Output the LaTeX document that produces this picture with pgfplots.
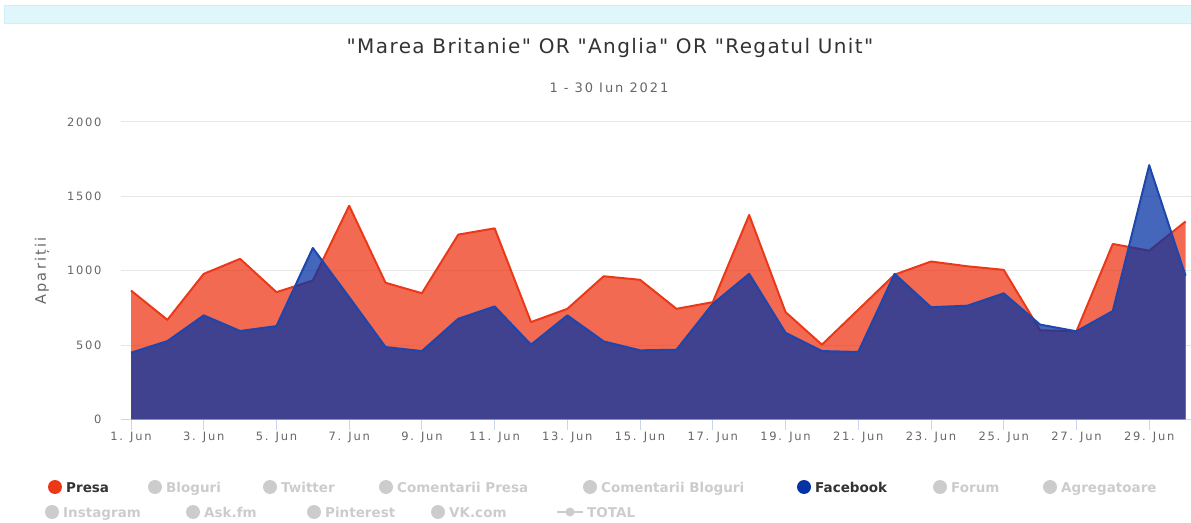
\documentclass[border=0pt]{standalone}
\usepackage{fontspec}
\setmainfont{DejaVu Sans}
\newfontfamily\spaced[LetterSpace=15]{DejaVu Sans}
\newfontfamily\titlefont[LetterSpace=7]{DejaVu Sans}
\usepackage{pgfplots}
\pgfplotsset{compat=1.18}
\usepackage{pgfplotstable}
\usetikzlibrary{calc}
\definecolor{presa}{RGB}{237,56,24}
\definecolor{fb}{RGB}{5,51,164}
\definecolor{gridc}{HTML}{E6E6E6}
\definecolor{axisc}{HTML}{CCD6EB}
\definecolor{txt}{HTML}{666666}
\definecolor{dark}{HTML}{333333}
\definecolor{inact}{HTML}{CCCCCC}
\definecolor{band}{HTML}{DFF6FB}
\definecolor{bandb}{HTML}{CDEFF7}

\pgfplotstableread{
day presa facebook
1 867 449
2 670 527
3 979 700
4 1080 595
5 856 628
6 934 1153
7 1437 822
8 919 487
9 849 460
10 1243 677
11 1285 760
12 655 503
13 744 700
14 963 525
15 939 465
16 744 469
17 789 778
18 1375 979
19 722 583
20 503 460
21 738 454
22 974 979
23 1062 755
24 1030 765
25 1006 848
26 600 638
27 593 593
28 1180 729
29 1135 1710
30 1331 966
}\datatable

\newcommand{\legitem}[5]{%
  \fill[#3] (#1pt,#2pt) circle (7pt);
  \node[anchor=base west, inner sep=0pt, text=#4, font=\fontsize{13.5}{15}\selectfont\bfseries] at ($(#1pt,#2pt)+(11pt,-5pt)$) {#5};}
\newcommand{\q}{\char34 }

\begin{document}
\begin{tikzpicture}
\useasboundingbox (0,0) rectangle (1191pt,522pt);
\fill[band, draw=bandb] (4pt,499pt) rectangle (1191pt,517pt);
\node[text=dark, font=\titlefont\fontsize{20}{23}\selectfont] at (610pt,474pt) {\q Marea Britanie\q{} OR \q Anglia\q{} OR \q Regatul Unit\q};
\node[text=txt, font=\spaced\fontsize{13}{15}\selectfont] at (609pt,434pt) {1 - 30 Iun 2021};
\node[rotate=90, text=txt, font=\spaced\fontsize{14.5}{16}\selectfont] at (42pt,251pt) {Apariții};

\begin{axis}[
  at={(121pt,102.5pt)}, anchor=south west,
  scale only axis, width=1070pt, height=297.5pt,
  xmin=0.725, xmax=30.15, ymin=0, ymax=2000,
  axis lines*=left,
  y axis line style={draw=none},
  x axis line style={draw=axisc, line width=1pt},
  ytick={0,500,1000,1500,2000},
  ymajorgrids, grid style={gridc, line width=1pt},
  ytick style={draw=none},
  xtick={1,3,...,29},
  xticklabels={1. Jun,3. Jun,5. Jun,7. Jun,9. Jun,11. Jun,13. Jun,15. Jun,17. Jun,19. Jun,21. Jun,23. Jun,25. Jun,27. Jun,29. Jun},
  tick align=outside,
  major tick length=10pt,
  xtick style={draw=axisc, line width=1pt},
  /pgf/number format/assume math mode=true,
  /pgf/number format/1000 sep={},
  yticklabel style={text=txt, font=\spaced\fontsize{11.5}{13}\selectfont, anchor=east, xshift=-6pt},
  xticklabel style={text=txt, font=\spaced\fontsize{11.5}{13}\selectfont, anchor=north, yshift=1pt},
  clip=false,
]
\addplot[fill=presa, fill opacity=0.75, draw=none] table[x=day, y=presa] {\datatable} \closedcycle;
\addplot[presa, line width=2pt, line join=round] table[x=day, y=presa] {\datatable};
\addplot[fill=fb, fill opacity=0.75, draw=none] table[x=day, y=facebook] {\datatable} \closedcycle;
\addplot[fb!90!white, line width=2pt, line join=round] table[x=day, y=facebook] {\datatable};
\end{axis}

\legitem{55}{35}{presa}{dark}{Presa}
\legitem{155}{35}{inact}{inact}{Bloguri}
\legitem{270}{35}{inact}{inact}{Twitter}
\legitem{386}{35}{inact}{inact}{Comentarii Presa}
\legitem{590}{35}{inact}{inact}{Comentarii Bloguri}
\legitem{804}{35}{fb}{dark}{Facebook}
\legitem{940}{35}{inact}{inact}{Forum}
\legitem{1050}{35}{inact}{inact}{Agregatoare}
\legitem{52}{10}{inact}{inact}{Instagram}
\legitem{193}{10}{inact}{inact}{Ask.fm}
\legitem{314}{10}{inact}{inact}{Pinterest}
\legitem{438}{10}{inact}{inact}{VK.com}
\draw[inact, line width=2pt] (557pt,10pt) -- (583pt,10pt);
\fill[inact] (570pt,10pt) circle (4.5pt);
\node[anchor=base west, inner sep=0pt, text=inact, font=\fontsize{13.5}{15}\selectfont\bfseries] at (587pt,5pt) {TOTAL};
\end{tikzpicture}
\end{document}
